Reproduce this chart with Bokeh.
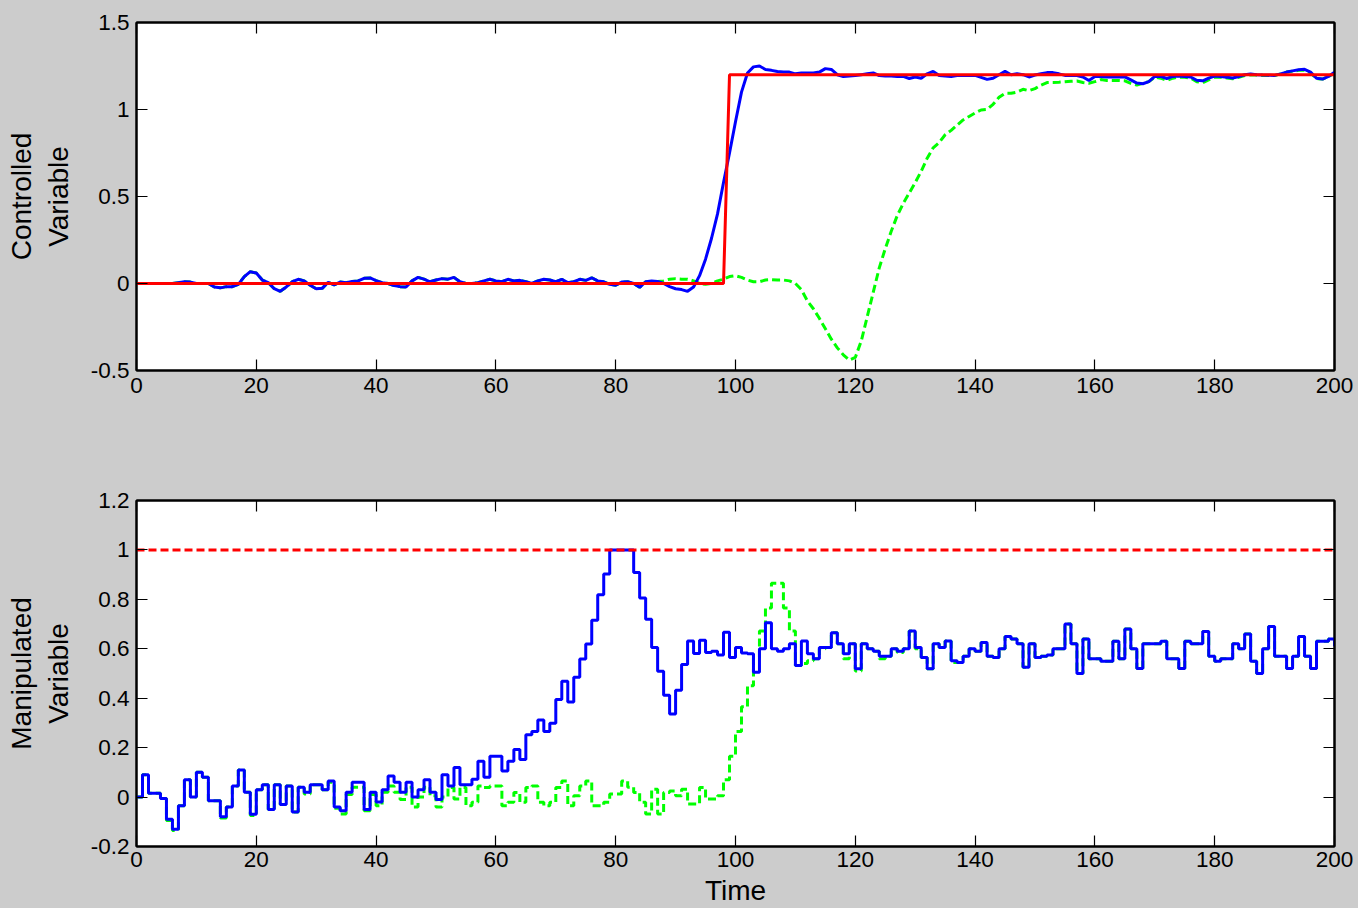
from bokeh.plotting import figure
from bokeh.models import Range1d, FixedTicker, LinearAxis, CustomJSTickFormatter
from bokeh.layouts import column
from bokeh.embed import file_html
from bokeh.resources import INLINE

# ---------------- data ----------------
time = list(range(0, 201))

x_ticks = [0, 20, 40, 60, 80, 100, 120, 140, 160, 180, 200]
cv_ticks = [-0.5, 0, 0.5, 1, 1.5]
mv_ticks = [-0.2, 0, 0.2, 0.4, 0.6, 0.8, 1, 1.2]

# Controlled variable, blue solid
cv_blue = [
    0, 0, 0, 0, 0, 0, 0, 0.005, 0.01, 0.008,
    0, 0, 0, -0.02, -0.025, -0.018, -0.018, -0.005, 0.04, 0.068,
    0.06, 0.02, 0.005, -0.03, -0.045, -0.02, 0.01, 0.024, 0.015, -0.01,
    -0.03, -0.028, 0.007, -0.008, 0.008, 0.005, 0.012, 0.015, 0.03, 0.032,
    0.017, 0.005, 0, -0.012, -0.018, -0.02, 0.015, 0.035, 0.025, 0.01,
    0.02, 0.028, 0.025, 0.035, 0.01, 0, 0, 0.005, 0.015, 0.024,
    0.015, 0.01, 0.024, 0.015, 0.018, 0.01, 0, 0.015, 0.024, 0.02,
    0.01, 0.024, 0.005, 0.01, 0.024, 0.018, 0.033, 0.015, 0.01, -0.005,
    -0.01, 0.008, 0.01, 0, -0.022, 0.01, 0.015, 0.012, 0, -0.018,
    -0.03, -0.035, -0.045, -0.02, 0.045, 0.14, 0.26, 0.40, 0.58, 0.75,
    0.93, 1.10, 1.21, 1.245, 1.25, 1.23, 1.225, 1.218, 1.215, 1.215,
    1.205, 1.21, 1.21, 1.21, 1.215, 1.235, 1.23, 1.2, 1.19, 1.192,
    1.195, 1.2, 1.205, 1.21, 1.195, 1.192, 1.192, 1.19, 1.19, 1.178,
    1.187, 1.18, 1.205, 1.219, 1.195, 1.192, 1.19, 1.195, 1.196, 1.196,
    1.196, 1.185, 1.173, 1.18, 1.2, 1.219, 1.2, 1.206, 1.2, 1.187,
    1.198, 1.205, 1.212, 1.212, 1.205, 1.196, 1.196, 1.195, 1.187, 1.167,
    1.19, 1.19, 1.187, 1.187, 1.187, 1.187, 1.17, 1.152, 1.148, 1.16,
    1.19, 1.19, 1.178, 1.19, 1.192, 1.19, 1.187, 1.168, 1.165, 1.18,
    1.192, 1.19, 1.186, 1.181, 1.19, 1.2, 1.204, 1.2, 1.198, 1.197,
    1.196, 1.205, 1.215, 1.222, 1.228, 1.231, 1.215, 1.18, 1.175, 1.19,
    1.215,
]

# Controlled variable, green dashed
cv_green = [
    0, 0, 0, 0, 0, 0, 0, 0.005, 0.01, 0.008,
    0, 0, 0, -0.02, -0.025, -0.018, -0.018, -0.005, 0.04, 0.068,
    0.06, 0.02, 0.005, -0.03, -0.045, -0.02, 0.01, 0.024, 0.015, -0.01,
    -0.03, -0.028, 0.007, -0.008, 0.008, 0.005, 0.012, 0.015, 0.03, 0.032,
    0.017, 0.005, 0, -0.012, -0.018, -0.02, 0.015, 0.035, 0.025, 0.01,
    0.02, 0.028, 0.025, 0.035, 0.01, 0, 0, 0.005, 0.015, 0.024,
    0.015, 0.01, 0.024, 0.015, 0.018, 0.01, 0, 0.015, 0.024, 0.02,
    0.01, 0.024, 0.005, 0.01, 0.024, 0.018, 0.033, 0.015, 0.01, -0.005,
    -0.01, 0.008, 0.01, 0, -0.022, 0.01, 0.01, 0.012, 0.015, 0.025,
    0.028, 0.025, 0.025, 0.015, 0.0, -0.005, 0.0, 0.015, 0.025, 0.04,
    0.045, 0.035, 0.02, 0.01, 0.01, 0.02, 0.022, 0.02, 0.02, 0.015,
    0.0, -0.035, -0.1, -0.145, -0.2, -0.26, -0.32, -0.37, -0.41, -0.44,
    -0.425, -0.33, -0.19, -0.05, 0.09, 0.2, 0.3, 0.39, 0.46, 0.52,
    0.58, 0.645, 0.72, 0.78, 0.81, 0.855, 0.88, 0.91, 0.94, 0.96,
    0.98, 0.997, 1.0, 1.03, 1.07, 1.093, 1.093, 1.1, 1.116, 1.108,
    1.12, 1.14, 1.155, 1.155, 1.157, 1.16, 1.162, 1.164, 1.155, 1.151,
    1.16, 1.172, 1.167, 1.167, 1.167, 1.165, 1.15, 1.14, 1.15, 1.16,
    1.186, 1.18, 1.167, 1.18, 1.186, 1.185, 1.18, 1.16, 1.154, 1.17,
    1.186, 1.185, 1.181, 1.177, 1.185, 1.195, 1.2, 1.198, 1.196, 1.195,
    1.195, 1.205, 1.215, 1.22, 1.225, 1.225, 1.21, 1.177, 1.175, 1.19,
    1.21,
]

# Set-point (red)
sp_time = [0, 98, 99, 200]
sp_value = [0, 0, 1.2, 1.2]

# Manipulated variable, blue solid (stairs)
mv_blue = [
    0.0, 0.09, 0.015, 0.015, -0.006, -0.09, -0.13, -0.035, 0.07, 0.0,
    0.10, 0.08, -0.015, -0.015, -0.08, -0.04, 0.045, 0.11, 0.02, -0.07,
    0.03, 0.05, -0.05, 0.05, -0.03, 0.045, -0.06, 0.04, 0.02, 0.05,
    0.05, 0.03, 0.065, -0.04, -0.055, 0.02, 0.06, 0.06, -0.05, 0.02,
    -0.02, 0.03, 0.085, 0.06, 0.02, 0.06, 0.0, 0.03, 0.07, 0.02,
    -0.01, 0.09, 0.045, 0.12, 0.05, 0.05, 0.072, 0.145, 0.08, 0.165,
    0.165, 0.105, 0.145, 0.192, 0.152, 0.252, 0.265, 0.312, 0.265, 0.299,
    0.395, 0.469, 0.385, 0.485, 0.559, 0.619, 0.715, 0.819, 0.903, 1.0,
    1.0, 1.0, 1.0, 0.909, 0.805, 0.72, 0.605, 0.509, 0.412, 0.336,
    0.432, 0.536, 0.632, 0.581, 0.635, 0.585, 0.59, 0.575, 0.667, 0.565,
    0.605, 0.583, 0.58, 0.505, 0.6, 0.705, 0.6, 0.59, 0.6, 0.62,
    0.532, 0.632, 0.58, 0.56, 0.605, 0.605, 0.665, 0.62, 0.58, 0.62,
    0.519, 0.62, 0.6, 0.59, 0.57, 0.57, 0.6, 0.59, 0.6, 0.672,
    0.605, 0.565, 0.519, 0.62, 0.605, 0.632, 0.552, 0.545, 0.57, 0.6,
    0.59, 0.625, 0.57, 0.565, 0.6, 0.65, 0.64, 0.62, 0.525, 0.62,
    0.565, 0.57, 0.575, 0.6, 0.6, 0.70, 0.62, 0.50, 0.64, 0.56,
    0.56, 0.55, 0.55, 0.63, 0.56, 0.68, 0.6, 0.52, 0.62, 0.62,
    0.62, 0.63, 0.56, 0.56, 0.52, 0.63, 0.62, 0.62, 0.67, 0.57,
    0.55, 0.56, 0.56, 0.62, 0.60, 0.66, 0.55, 0.50, 0.60, 0.69,
    0.57, 0.57, 0.52, 0.57, 0.65, 0.57, 0.52, 0.63, 0.63, 0.64,
    0.61,
]

# Manipulated variable, green dashed (stairs)
mv_green = [
    0.0, 0.09, 0.015, 0.015, -0.006, -0.095, -0.135, -0.035, 0.07, 0.0,
    0.10, 0.08, -0.015, -0.015, -0.085, -0.04, 0.045, 0.11, 0.02, -0.075,
    0.03, 0.05, -0.05, 0.05, -0.03, 0.045, -0.06, 0.04, 0.012, 0.05,
    0.05, 0.03, 0.06, -0.045, -0.068, 0.01, 0.04, 0.04, -0.055, 0.01,
    -0.035, 0.02, 0.045, 0.02, -0.01, 0.04, -0.04, 0.0, 0.04, 0.005,
    -0.04, 0.0, 0.039, -0.008, 0.039, -0.035, -0.021, 0.045, 0.039, 0.045,
    0.045, -0.035, -0.021, 0.019, -0.021, 0.039, 0.045, -0.021, -0.035, -0.021,
    0.039, 0.065, -0.035, 0.005, 0.045, 0.065, -0.035, -0.035, -0.021, 0.012,
    0.012, 0.065, 0.04, 0.019, -0.021, -0.068, 0.032, -0.068, 0.019, 0.025,
    0.005, 0.032, -0.028, -0.028, 0.039, -0.008, -0.008, 0.005, 0.07, 0.165,
    0.265, 0.365, 0.45, 0.565, 0.672, 0.765, 0.865, 0.865, 0.765, 0.672,
    0.532, 0.54, 0.552, 0.56, 0.6, 0.605, 0.665, 0.62, 0.56, 0.62,
    0.51, 0.62, 0.6, 0.59, 0.56, 0.57, 0.6, 0.585, 0.6, 0.672,
    0.6, 0.565, 0.519, 0.62, 0.605, 0.632, 0.545, 0.545, 0.57, 0.6,
    0.59, 0.625, 0.57, 0.565, 0.6, 0.65, 0.64, 0.62, 0.525, 0.62,
    0.565, 0.57, 0.575, 0.6, 0.6, 0.70, 0.62, 0.50, 0.64, 0.56,
    0.56, 0.55, 0.55, 0.63, 0.56, 0.68, 0.6, 0.52, 0.62, 0.62,
    0.62, 0.63, 0.56, 0.56, 0.52, 0.63, 0.62, 0.62, 0.67, 0.57,
    0.55, 0.56, 0.56, 0.62, 0.60, 0.66, 0.55, 0.50, 0.60, 0.69,
    0.57, 0.57, 0.52, 0.57, 0.65, 0.57, 0.52, 0.63, 0.63, 0.64,
    0.61,
]

# MV upper limit (red dashed)
mv_limit_time = [0, 200]
mv_limit_value = [1, 1]

# ---------------- styling ----------------
FONT = "Liberation Sans"
BG = "#cccccc"
BLUE = "#0000ff"
GREEN = "#00ff00"
RED = "#ff0000"
LW = 3
TICK_FMT = "return tick.toString();"
NO_LABEL = "return '';"


def base_axis(ax, ticks, show_labels=True):
    ax.ticker = FixedTicker(ticks=ticks)
    ax.formatter = CustomJSTickFormatter(code=TICK_FMT if show_labels else NO_LABEL)
    ax.major_tick_in = 11
    ax.major_tick_out = 0
    ax.minor_tick_in = 0
    ax.minor_tick_out = 0
    ax.axis_line_color = "black"
    ax.axis_line_width = 2
    ax.major_tick_line_color = "black"
    ax.major_tick_line_width = 1.2
    ax.major_label_text_font = FONT
    ax.major_label_text_color = "black"
    ax.major_label_text_font_size = "22.5px"
    if not show_labels:
        ax.major_label_standoff = 0


def make_fig(height, ylo, yhi, yticks, ylabel, top_border, bottom_border, xlabel=None):
    p = figure(
        width=1358, height=height,
        x_range=Range1d(0, 200), y_range=Range1d(ylo, yhi),
        output_backend="svg", toolbar_location=None,
        min_border_left=136, min_border_right=24,
        min_border_top=top_border, min_border_bottom=bottom_border,
        background_fill_color="white", border_fill_color=BG,
        outline_line_color="black", outline_line_width=2,
    )
    p.grid.visible = False
    base_axis(p.xaxis[0], x_ticks)
    base_axis(p.yaxis[0], yticks)
    p.xaxis[0].major_label_standoff = 7
    p.yaxis[0].major_label_standoff = 7
    p.yaxis[0].axis_label = ylabel
    p.yaxis[0].axis_label_text_font = FONT
    p.yaxis[0].axis_label_text_font_size = "28px"
    p.yaxis[0].axis_label_text_font_style = "normal"
    p.yaxis[0].axis_label_text_color = "black"
    p.yaxis[0].axis_label_standoff = 14
    if xlabel:
        p.xaxis[0].major_label_standoff = 5
        p.xaxis[0].axis_label = xlabel
        p.xaxis[0].axis_label_text_font = FONT
        p.xaxis[0].axis_label_text_font_size = "28px"
        p.xaxis[0].axis_label_text_font_style = "normal"
        p.xaxis[0].axis_label_text_color = "black"
        p.xaxis[0].axis_label_standoff = 5
    right = LinearAxis()
    base_axis(right, yticks, show_labels=False)
    p.add_layout(right, "right")
    top = LinearAxis()
    base_axis(top, x_ticks, show_labels=False)
    p.add_layout(top, "above")
    return p


p1 = make_fig(430, -0.5, 1.5, cv_ticks, "Controlled\nVariable", 22, 60)
p1.line(time, cv_green, line_color=GREEN, line_width=LW, line_dash="8 4")
p1.line(time, cv_blue, line_color=BLUE, line_width=LW)
p1.line(sp_time, sp_value, line_color=RED, line_width=LW)

p2 = make_fig(478, -0.2, 1.2, mv_ticks, "Manipulated\nVariable", 70, 60, xlabel="Time")
p2.step(time, mv_green, mode="after", line_color=GREEN, line_width=LW, line_dash="8 4")
p2.step(time, mv_blue, mode="after", line_color=BLUE, line_width=LW)
p2.line(mv_limit_time, mv_limit_value, line_color=RED, line_width=LW, line_dash="8 4")

p = column(p1, p2, spacing=0, styles={"background-color": BG})

open("out.html", "w").write(file_html(p, INLINE))
